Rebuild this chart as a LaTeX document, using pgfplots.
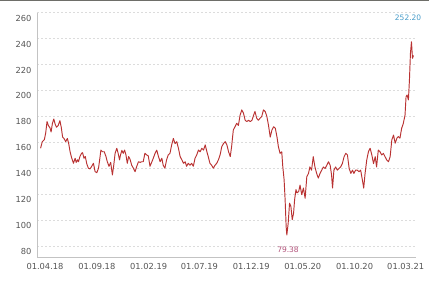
\documentclass[border=0pt]{standalone}
\usepackage{pgfplots}
\pgfplotsset{compat=1.18}
\usepackage{fontspec}
\setmainfont{DejaVu Sans}
\definecolor{linered}{RGB}{185,50,50}
\definecolor{ticktxt}{RGB}{85,85,85}
\definecolor{gridc}{RGB}{220,220,220}
\definecolor{axc}{RGB}{195,195,195}
\definecolor{maxc}{RGB}{70,155,200}
\definecolor{minc}{RGB}{176,80,120}
\begin{document}
\begin{tikzpicture}
\useasboundingbox (0,0) rectangle (445pt,282pt);
\draw[draw={rgb,255:red,110;green,110;blue,105}, line width=1.4pt] (0,281.3pt) -- (429pt,281.3pt);
\begin{axis}[
  at={(37pt,25pt)}, anchor=south west,
  scale only axis, width=378.7pt, height=244.3pt,
  xmin=-23.6, xmax=1094.5, ymin=71.5, ymax=260,
  clip=false,
  axis x line*=bottom, axis y line*=left,
  axis line style={draw=axc, line width=0.6pt, -},
  xtick={0,153,306,456,609,761,914,1065},
  xticklabels={01.04.18,01.09.18,01.02.19,01.07.19,01.12.19,01.05.20,01.10.20,01.03.21},
  ytick={80,100,...,260},
  ymajorgrids, major grid style={draw=gridc, dash pattern=on 2pt off 2pt, line width=0.5pt},
  major tick length=0pt,
  tick label style={font=\fontsize{8.3}{9}\selectfont, text=ticktxt},
  yticklabel style={yshift=-5.5pt, xshift=-2pt},
  xticklabel style={yshift=-3pt},
  /pgf/number format/assume math mode=true,
]
\addplot[linered, line width=0.95pt, line join=round] coordinates {
(-13,155.4)(-8,160.5)(-2,162)(2,167)(6,176)(10,173)(15,171)(18,168)(22,174.7)(26,178)(30,174)(34,171.6)(39,173)(44,176.7)(48,171.6)(52,164)(56,163)(61,160.5)(66,163)(70,159)(74,152.8)(79,147.7)(84,143.8)(89,147.7)(92,144.5)(96,146.5)(99,145)(103,149)(108,151.5)(111,152)(115,147.7)(119,149)(123,143.8)(128,140)(133,139.5)(138,141.5)(143,143.8)(148,137.3)(153,136.6)(158,140)(162,147.7)(165,154)(170,152.7)(175,152.7)(180,149)(184,145)(189,141.5)(194,144.5)(199,134.8)(203,142.3)(207,151.5)(212,155.4)(216,151.5)(220,146.5)(223,150.3)(227,153.8)(231,151.5)(235,154)(239,150.3)(243,143.8)(247,149)(251,147)(256,142.3)(261,140)(266,137.3)(271,141.5)(276,145)(281,144.5)(285,145)(290,145)(295,151.5)(300,150.3)(305,149.5)(310,141.5)
(318,146.5)(325,151.5)(330,154)(335,149)(340,145)(345,147.7)(349,142.3)(354,140)(359,146.5)(364,150.3)(369,151.5)(374,158)(379,163)(384,159)(389,160.5)(394,155.4)(399,149)(404,146.5)(409,143.8)(414,145)(418,141.5)(423,143.8)(428,142.3)(433,143.8)(438,141.5)(443,147.7)(448,150.3)(453,154)(458,152.7)(463,155.4)(468,154)(473,158)(478,152.7)(482,149)(487,143.8)(492,142.3)(497,140)(502,142.3)(507,143.8)(512,146.5)(517,150.3)(522,156.7)(527,159)(532,160.5)(537,158)(542,152.7)(547,149)(551,156.7)(556,169.5)(561,172)(566,174.7)(571,173)(576,181)(581,185)(586,182.5)(591,177)(596,176)(601,177)(606,176)(611,177)(616,181)(620,183.8)(625,178.6)(630,177)(635,178.6)(640,180)(645,185)(650,183.8)(655,180)(660,173)(665,164)(670,169.5)(675,172)(680,170.9)(685,164)(689,156.7)(694,151.5)(699,152.7)(702,141.5)(706,131)(709,115.5)(712,94.9)(714,88.5)(718,97.5)(722,113)(726,110.6)(730,100.3)(734,105.5)(737,115.8)(741,123.5)(744,121)(749,122)
(753,127)(758,119.6)(763,124.7)(768,116.8)(773,133.5)(778,136)(782,141)(787,138.5)(792,148.9)(797,141)(802,136)(807,132.4)(812,136)(817,138.5)(822,141)(827,139.8)(832,142.3)(837,145)(842,142.3)(846,135)(849,124.7)(853,138.5)(858,141)(863,138.5)(868,139.8)(873,141)(878,143.6)(883,148.9)(888,151.5)(893,150.2)(898,139.8)(903,136)(908,138.5)(912,136)(917,138.5)(922,138.5)(927,137.3)(932,138.5)(937,131)(941,124.7)(945,135.9)(950,146.4)(955,152.8)(960,155.4)(965,150.2)(970,143.6)(975,148.9)(979,141)(984,154)(989,152.8)(994,150.2)(999,151.5)(1004,148.9)(1009,146.4)(1014,145)(1019,148.9)(1024,161.8)(1029,165.6)(1034,159.3)(1039,163.2)(1043,164.4)(1048,163.2)(1053,170.8)(1058,174.7)(1063,181)(1066,195.2)(1069,196.5)(1073,192.7)(1076,208)(1079,228.7)(1082,237.6)(1085,224.8)(1088,227)
};
\node[text=maxc, font=\fontsize{7.5}{8}\selectfont] at (axis cs:1072,256) {252.20};
\node[text=minc, font=\fontsize{7.5}{8}\selectfont] at (axis cs:717.5,76.9) {79.38};
\end{axis}
\end{tikzpicture}
\end{document}
